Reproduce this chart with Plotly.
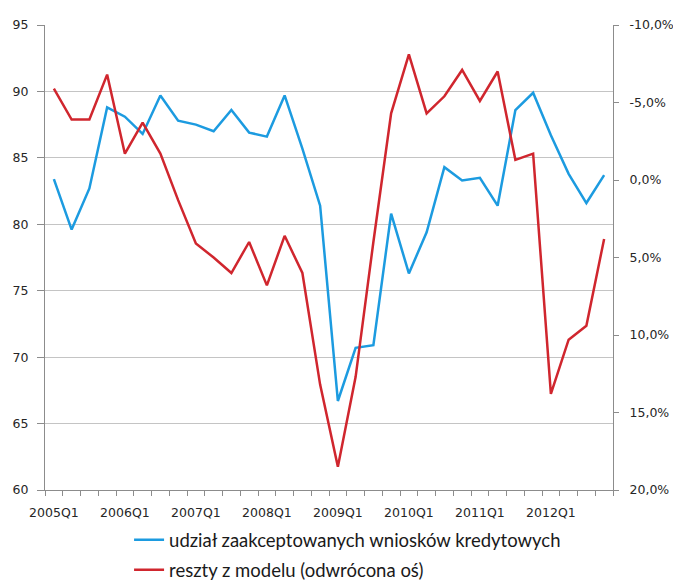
import plotly.graph_objects as go

# Quarterly periods 2005Q1 - 2012Q4
quarters = [f"{y}Q{q}" for y in range(2005, 2013) for q in range(1, 5)]

# Share of accepted credit applications (left axis)
accepted_share = [
    83.4, 79.6, 82.7, 88.8, 88.1, 86.8, 89.7, 87.8,
    87.5, 87.0, 88.6, 86.9, 86.6, 89.7, 85.7, 81.4,
    66.7, 70.7, 70.9, 80.8, 76.3, 79.4, 84.3, 83.3,
    83.5, 81.4, 88.6, 89.9, 86.7, 83.8, 81.6, 83.7,
]

# Model residuals in % (right axis, reversed)
residuals = [
    -5.9, -3.9, -3.9, -6.8, -1.7, -3.7, -1.7, 1.3,
    4.1, 5.0, 6.0, 4.0, 6.8, 3.6, 6.0, 13.2,
    18.5, 12.7, 4.0, -4.3, -8.1, -4.3, -5.4, -7.1,
    -5.1, -7.0, -1.3, -1.7, 13.8, 10.3, 9.4, 3.8,
]

left_ticks = [60, 65, 70, 75, 80, 85, 90, 95]
right_ticks = [-10, -5, 0, 5, 10, 15, 20]
right_ticktext = [f"{v:.1f}%".replace(".", ",") for v in right_ticks]

series_names = [
    "udział zaakceptowanych wniosków kredytowych",
    "reszty z modelu (odwrócona oś)",
]

BLUE = "#1c9be0"
RED = "#d0262e"
AXIS = "#8c8c8c"
GRID = "#c4c4c4"
TICK_FONT = dict(family="DejaVu Sans", size=12.5, color="#262626")

idx = list(range(len(quarters)))
label_idx = idx[::4]
label_text = quarters[::4]

fig = go.Figure()
fig.add_trace(go.Scatter(
    x=idx, y=accepted_share, mode="lines", name=series_names[0],
    legendgroup="a", line=dict(color=BLUE, width=2.5), customdata=quarters,
    hovertemplate="%{customdata}: %{y}<extra></extra>",
))
fig.add_trace(go.Scatter(
    x=idx, y=residuals, mode="lines", name=series_names[1], yaxis="y2",
    legendgroup="b", line=dict(color=RED, width=2.5), customdata=quarters,
    hovertemplate="%{customdata}: %{y}%<extra></extra>",
))

fig.update_layout(
    width=673, height=583,
    margin=dict(l=45, r=60, t=25, b=93, autoexpand=False),
    paper_bgcolor="white", plot_bgcolor="white",
    showlegend=True,
    legend=dict(
        orientation="v", x=0.148, xanchor="left", y=-0.067, yanchor="top",
        font=dict(family="Lato", size=18.5, color="#1a1a1a"),
        bgcolor="rgba(0,0,0,0)", tracegroupgap=3, itemwidth=30,
    ),
    xaxis=dict(
        range=[-0.5, len(quarters) - 0.5],
        tickmode="array", tickvals=label_idx, ticktext=label_text,
        ticks="", showgrid=False, zeroline=False,
        showline=True, linecolor=AXIS, linewidth=1,
        tickfont=TICK_FONT, ticklabelstandoff=11,
        minor=dict(ticks="outside", tick0=-0.5, dtick=1, ticklen=5,
                   tickcolor=AXIS, showgrid=False),
    ),
    yaxis=dict(
        range=[60, 95], tickmode="array", tickvals=left_ticks,
        ticks="outside", ticklen=7, tickcolor=AXIS,
        showgrid=True, gridcolor=GRID, gridwidth=1, zeroline=False,
        showline=True, linecolor=AXIS, linewidth=1,
        tickfont=TICK_FONT, ticklabelstandoff=6,
    ),
    yaxis2=dict(
        range=[20, -10], overlaying="y", side="right", anchor="x",
        tickmode="array", tickvals=right_ticks, ticktext=right_ticktext,
        ticks="outside", ticklen=5, tickcolor=AXIS,
        showgrid=False, zeroline=False,
        showline=True, linecolor=AXIS, linewidth=1,
        tickfont=TICK_FONT, ticklabelstandoff=8,
    ),
)

fig.write_html("out.html")
